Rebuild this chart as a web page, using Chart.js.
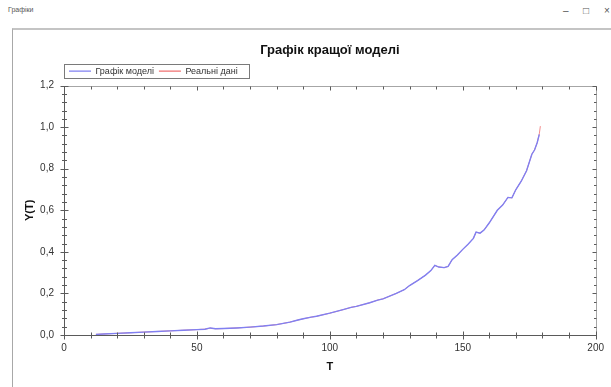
<!DOCTYPE html>
<html>
<head>
<meta charset="utf-8">
<title>Графіки</title>
<script src="https://cdn.jsdelivr.net/npm/chart.js@4"></script>
<style>
html, body { margin: 0; padding: 0; width: 611px; height: 387px; overflow: hidden; background: #fff;
  font-family: "Liberation Sans", Arial, sans-serif; }
#caption { position: absolute; left: 8px; top: 6px; font-size: 7px; color: #555; }
.ctl { position: absolute; top: 5px; font-size: 10px; color: #555; }
#panel { position: absolute; left: 12px; top: 28px; width: 599px; height: 359px;
  border-left: 1px solid #a8a8a8; border-top: 2px solid #c4c4c4; background: #fff; }
#panel canvas { position: absolute; left: 0; top: 0; }
</style>
</head>
<body>
<div id="caption">Графіки</div>
<span class="ctl" style="left:563px">–</span>
<span class="ctl" style="left:583px">□</span>
<span class="ctl" style="left:604px">×</span>
<div id="panel"><canvas id="chart" width="598" height="357"></canvas></div>
<script>
// --- дані ---
const tModel = [12, 15, 20, 25, 30, 35, 40, 45, 50, 53, 55, 57, 60, 65, 70, 75, 80, 85, 88, 90,
  93, 95, 100, 105, 108, 110, 115, 118, 120, 125, 128, 130, 133, 136, 138, 139.5, 141, 143, 144.5, 146,
  148, 150, 152, 154, 155, 156.5, 158, 160, 163, 165, 167, 168.5, 170, 172, 174, 176, 177, 178, 178.8];
const yModel = [0.003, 0.005, 0.008, 0.011, 0.014, 0.017, 0.020, 0.023, 0.026, 0.028, 0.034, 0.030, 0.031, 0.034, 0.038, 0.043, 0.050, 0.062, 0.072, 0.078,
  0.086, 0.090, 0.105, 0.122, 0.133, 0.138, 0.155, 0.168, 0.174, 0.200, 0.218, 0.238, 0.262, 0.288, 0.310, 0.335, 0.327, 0.324, 0.330, 0.362,
  0.385, 0.412, 0.437, 0.465, 0.495, 0.490, 0.505, 0.540, 0.600, 0.625, 0.662, 0.660, 0.700, 0.740, 0.790, 0.870, 0.890, 0.925, 0.965];

const tReal = [12, 15, 20, 25, 30, 35, 40, 45, 50, 53, 55, 57, 60, 65, 70, 75, 80, 85, 88, 90,
  93, 95, 100, 105, 108, 110, 115, 118, 120, 125, 128, 130, 133, 136, 138, 139.5, 141, 143, 144.5, 146,
  148, 150, 152, 154, 155, 156.5, 158, 160, 163, 165, 167, 168.5, 170, 172, 174, 176, 177, 178, 178.8, 179.2];
const yReal = [0.003, 0.005, 0.008, 0.011, 0.014, 0.017, 0.020, 0.023, 0.026, 0.028, 0.033, 0.030, 0.031, 0.034, 0.038, 0.043, 0.050, 0.062, 0.072, 0.078,
  0.086, 0.090, 0.105, 0.122, 0.133, 0.138, 0.155, 0.168, 0.174, 0.200, 0.218, 0.238, 0.262, 0.288, 0.310, 0.335, 0.327, 0.324, 0.330, 0.362,
  0.385, 0.412, 0.437, 0.465, 0.495, 0.490, 0.505, 0.540, 0.600, 0.625, 0.662, 0.660, 0.700, 0.740, 0.790, 0.870, 0.890, 0.925, 0.968, 1.005];

const xTickStep = 50, xMinorStep = 10;
const yTickStep = 0.2, yMinorStep = 0.04;

const toPoints = (xs, ys) => xs.map((x, i) => ({ x: x, y: ys[i] }));

// заголовок і легенда над областю графіка, а не над усім полотном
const placeHeader = {
  id: 'placeHeader',
  afterLayout(chart) {
    const a = chart.chartArea;
    const t = chart.titleBlock;
    if (t) { t.left = a.left; t.right = a.right; t.width = a.right - a.left; }
    const l = chart.legend;
    if (l) { const w = l.width; l.left = a.left; l.right = a.left + w; }
  },
  afterDraw(chart) {
    const l = chart.legend;
    if (!l || !l.legendHitBoxes.length) return;
    const hb = l.legendHitBoxes;
    const last = hb[hb.length - 1];
    const ctx = chart.ctx;
    ctx.save();
    ctx.strokeStyle = '#7a7a7a';
    ctx.lineWidth = 1;
    const x0 = Math.round(chart.chartArea.left) + 0.5;
    const x1 = Math.round(last.left + last.width + 11) + 0.5;
    const y0 = Math.round(hb[0].top - 3) + 0.5;
    const y1 = Math.round(hb[0].top + hb[0].height + 2) + 0.5;
    ctx.strokeRect(x0, y0, x1 - x0, y1 - y0);
    ctx.restore();
  }
};

// рамка і штрихи по всіх чотирьох сторонах
const frameTicks = {
  id: 'frameTicks',
  afterDraw(chart) {
    const { ctx, chartArea: a, scales: { x, y } } = chart;
    ctx.save();
    ctx.lineWidth = 1;
    ctx.strokeStyle = '#a6a6a6';
    ctx.strokeRect(Math.round(a.left) + 0.5, Math.round(a.top) + 0.5, Math.round(a.width), Math.round(a.height));
    ctx.strokeStyle = '#5a5a5a';
    const L = Math.round(a.left) + 0.5, B = Math.round(a.bottom) + 0.5;
    const R = Math.round(a.right) + 0.5, T = Math.round(a.top) + 0.5;
    ctx.beginPath();
    ctx.moveTo(L, T); ctx.lineTo(L, B); ctx.lineTo(R, B);
    for (let i = 0; i <= Math.round(x.max / xMinorStep); i++) {
      const v = i * xMinorStep;
      const major = v % xTickStep === 0;
      const px = Math.round(x.getPixelForValue(v)) + 0.5;
      const len = major ? 4 : 3;
      ctx.moveTo(px, B - len); ctx.lineTo(px, B + len);
      ctx.moveTo(px, T); ctx.lineTo(px, T + len);
    }
    for (let i = 0; i <= Math.round(y.max / yMinorStep); i++) {
      const v = i * yMinorStep;
      const major = i % Math.round(yTickStep / yMinorStep) === 0;
      const py = Math.round(y.getPixelForValue(v)) + 0.5;
      const len = major ? 4 : 2.5;
      ctx.moveTo(L - len, py); ctx.lineTo(L + len, py);
      ctx.moveTo(R - len, py); ctx.lineTo(R, py);
    }
    ctx.stroke();
    ctx.restore();
  }
};

const fontFamily = '"Liberation Sans", Arial, sans-serif';

new Chart(document.getElementById('chart'), {
  type: 'line',
  data: {
    datasets: [
      {
        label: 'Графік моделі',
        data: toPoints(tModel, yModel),
        borderColor: '#8080f2',
        borderWidth: 1.4,
        pointRadius: 0,
        tension: 0
      },
      {
        label: 'Реальні дані',
        data: toPoints(tReal, yReal),
        borderColor: '#f07070',
        borderWidth: 0.8,
        pointRadius: 0,
        tension: 0
      }
    ]
  },
  options: {
    responsive: false,
    animation: false,
    layout: { padding: { left: 0, right: 15, top: 0, bottom: 0 } },
    plugins: {
      title: {
        display: true,
        text: 'Графік кращої моделі',
        color: '#111',
        font: { family: fontFamily, size: 13, weight: 'bold' },
        padding: { top: 13, bottom: 3 }
      },
      legend: {
        display: true,
        align: 'start',
        labels: {
          usePointStyle: true,
          pointStyle: 'line',
          pointStyleWidth: 22,
          boxHeight: 9,
          padding: 5,
          color: '#333',
          font: { family: fontFamily, size: 9 },
          generateLabels(chart) {
            const items = Chart.defaults.plugins.legend.labels.generateLabels(chart);
            items.forEach(it => { it.lineWidth = 1.2; });
            return items;
          }
        }
      },
      tooltip: { enabled: false }
    },
    scales: {
      x: {
        type: 'linear',
        min: 0,
        max: 200,
        grid: { display: false, drawTicks: false },
        border: { display: false },
        ticks: {
          stepSize: xTickStep,
          padding: 7,
          color: '#333',
          font: { family: fontFamily, size: 10 },
          maxRotation: 0
        },
        title: {
          display: true,
          text: 'T',
          color: '#111',
          font: { family: fontFamily, size: 11, weight: 'bold' },
          padding: { top: 4, bottom: 13 }
        },
        afterFit(scale) { scale.height = 52; }
      },
      y: {
        type: 'linear',
        min: 0,
        max: 1.2,
        grid: { display: false, drawTicks: false },
        border: { display: false },
        ticks: {
          stepSize: yTickStep,
          padding: 10,
          color: '#333',
          font: { family: fontFamily, size: 10 },
          callback: v => v.toFixed(1).replace('.', ',')
        },
        title: {
          display: true,
          text: 'Y(T)',
          color: '#111',
          font: { family: fontFamily, size: 11, weight: 'bold' },
          padding: { top: 10, bottom: 4 }
        },
        afterFit(scale) { scale.width = 51; }
      }
    }
  },
  plugins: [placeHeader, frameTicks]
});
</script>
</body>
</html>
